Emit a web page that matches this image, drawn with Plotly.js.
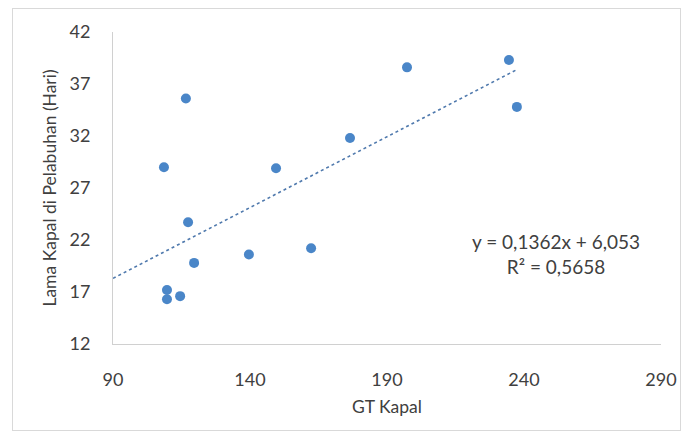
<!DOCTYPE html>
<html>
<head>
<meta charset="utf-8">
<script src="https://cdn.plot.ly/plotly-3.0.1.min.js"></script>
<style>
html,body{margin:0;padding:0;background:#fff;}
#wrap{position:relative;width:683px;height:436px;}
#chart{width:683px;height:436px;}
#frame{position:absolute;left:12px;top:8px;width:667px;height:421px;border:1px solid #d9d9d9;pointer-events:none;}
</style>
</head>
<body>
<div id="wrap"><div id="chart"></div><div id="frame"></div></div>
<script>
// Data
const gtKapal = [108.6, 116.6, 117.4, 119.6, 109.7, 109.7, 114.5, 139.6, 149.5, 162.3, 176.5, 197.3, 234.5, 237.4];
const lamaHari = [29.0, 35.6, 23.7, 19.8, 17.2, 16.3, 16.6, 20.6, 28.9, 21.2, 31.8, 38.6, 39.3, 34.8];
const slope = 0.1362;
const intercept = 6.053;
const xTicks = [90, 140, 190, 240, 290];
const yTicks = [12, 17, 22, 27, 32, 37, 42];

const xStart = 90;
const xEnd = Math.max(...gtKapal);
const trendX = [xStart, xEnd];
const trendY = trendX.map(v => slope * v + intercept);

const fontFam = "Lato, 'Open Sans', sans-serif";
const textColor = "#404040";

const traces = [
  {
    x: trendX, y: trendY, mode: "lines", type: "scatter",
    line: {color: "#4f79ad", width: 1.6, dash: "dot"},
    hoverinfo: "skip", showlegend: false
  },
  {
    x: gtKapal, y: lamaHari, mode: "markers", type: "scatter",
    marker: {color: "#4a86c8", size: 10},
    showlegend: false
  }
];

const layout = {
  width: 683, height: 436,
  margin: {l: 113, r: 22, t: 32, b: 92},
  paper_bgcolor: "#fff", plot_bgcolor: "#fff",
  font: {family: fontFam, color: textColor, size: 17},
  xaxis: {
    range: [90, 290], tickvals: xTicks, ticktext: xTicks.map(String),
    showgrid: false, zeroline: false,
    showline: true, linecolor: "#d0d0d0", linewidth: 1,
    ticks: "", ticklabelstandoff: 19,
    tickfont: {size: 18, color: textColor, family: fontFam},
    title: {text: "GT Kapal", font: {size: 17.5, color: textColor, family: fontFam}, standoff: 12}
  },
  yaxis: {
    range: [12, 42], tickvals: yTicks, ticktext: yTicks.map(String),
    showgrid: false, zeroline: false,
    showline: true, linecolor: "#d0d0d0", linewidth: 1,
    ticks: "", ticklabelstandoff: 18,
    tickfont: {size: 18, color: textColor, family: fontFam},
    title: {text: "Lama Kapal di Pelabuhan (Hari)", font: {size: 17.5, color: textColor, family: fontFam}, standoff: 8}
  },
  annotations: [
    {
      xref: "paper", xanchor: "center",
      yref: "paper", yanchor: "middle",
      x: (556 - 113) / (683 - 113 - 22),
      y: 1 - (254 - 32) / (436 - 32 - 92),
      text: "y = 0,1362x + 6,053<br>R² = 0,5658",
      showarrow: false, align: "center",
      font: {size: 19, color: textColor, family: fontFam}
    }
  ]
};

Plotly.newPlot("chart", traces, layout, {displayModeBar: false, staticPlot: true});
</script>
</body>
</html>
